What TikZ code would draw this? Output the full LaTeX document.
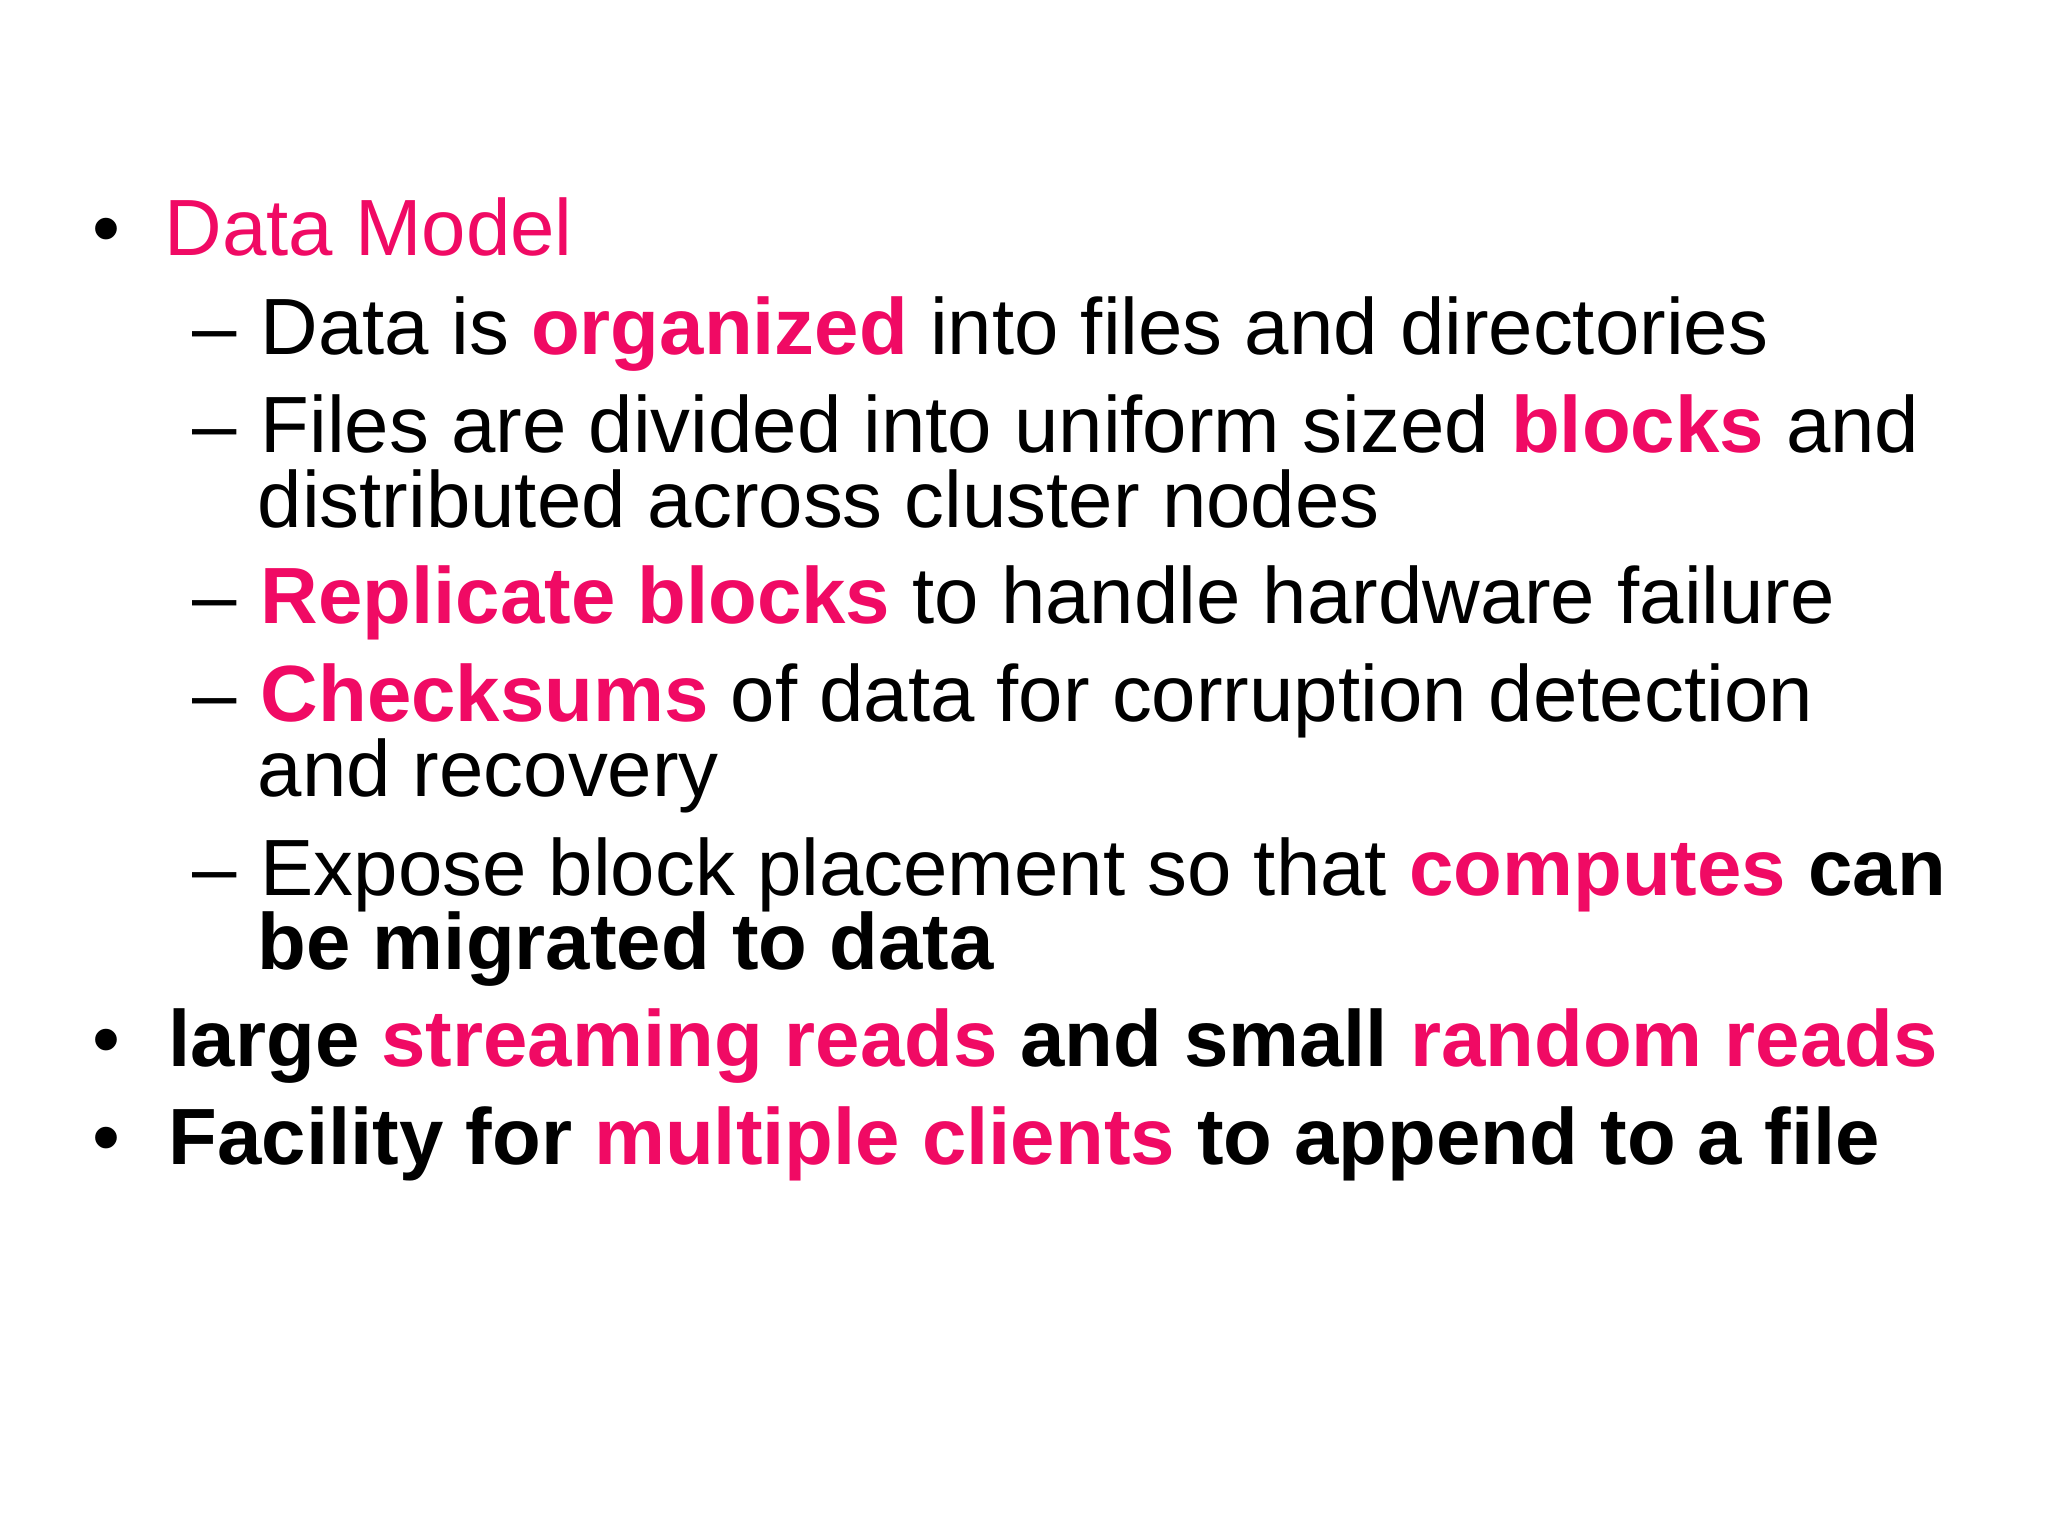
\documentclass[tikz,border=0pt]{standalone}
\usepackage{fontspec}
\setmainfont{Liberation Sans}
\definecolor{pk}{RGB}{240,10,100}
\newcommand{\pkb}[1]{\textcolor{pk}{\textbf{#1}}}
\begin{document}
\begin{tikzpicture}[t/.style={anchor=base west,inner sep=0pt,font=\fontsize{22.7}{27}\selectfont}]
\useasboundingbox (0,0) rectangle (20.48,-15.36);
\node[t] (b1) at (0.92,-2.56) {•};
\node[t] (l1) at (1.64,-2.56) {\textcolor{pk}{Data Model}};
\node[t] (d1) at (1.92,-3.545) {–};
\node[t] (l2) at (2.60,-3.545) {Data is \pkb{organized} into files and directories};
\node[t] (d2) at (1.92,-4.53) {–};
\node[t] (l3) at (2.60,-4.53) {Files are divided into uniform sized \pkb{blocks} and};
\node[t] (l3b) at (2.57,-5.28) {distributed across cluster nodes};
\node[t] (d3) at (1.92,-6.24) {–};
\node[t] (l4) at (2.60,-6.24) {\pkb{Replicate blocks} to handle hardware failure};
\node[t] (d4) at (1.92,-7.22) {–};
\node[t] (l5) at (2.60,-7.22) {\pkb{Checksums} of data for corruption detection};
\node[t] (l5b) at (2.57,-7.97) {and recovery};
\node[t] (d5) at (1.92,-8.95) {–};
\node[t] (l6) at (2.60,-8.95) {Expose block placement so that \pkb{computes} \textbf{can}};
\node[t] (l6b) at (2.57,-9.69) {\textbf{be migrated to data}};
\node[t] (b2) at (0.92,-10.66) {•};
\node[t] (l7) at (1.68,-10.66) {\textbf{large \pkb{streaming reads} and small \pkb{random reads}}};
\node[t] (b3) at (0.92,-11.64) {•};
\node[t] (l8) at (1.68,-11.64) {\textbf{Facility for \pkb{multiple clients} to append to a file}};
\end{tikzpicture}
\end{document}
